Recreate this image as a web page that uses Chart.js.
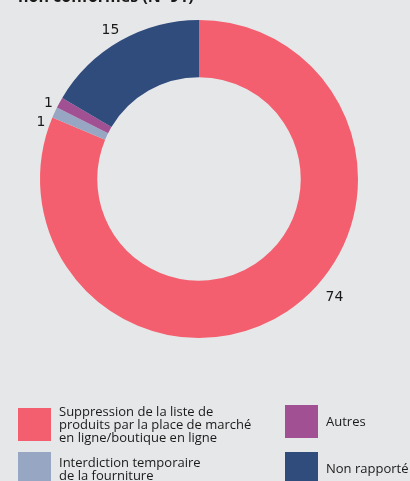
<!DOCTYPE html>
<html>
<head>
<meta charset="utf-8">
<script src="https://cdn.jsdelivr.net/npm/chart.js@4"></script>
<style>
  html, body { margin: 0; padding: 0; }
  body { width: 410px; height: 481px; background: #e6e7e9; position: relative; overflow: hidden;
         font-family: "Open Sans", "Noto Sans", sans-serif; color: #1a1a1a; }
  #wrap { position: absolute; left: 0; top: 0; width: 410px; height: 481px; }
  .title { position: absolute; left: 18px; top: -12px; font-size: 16px; font-weight: bold; line-height: 16px; white-space: nowrap; }
  .legend-item { position: absolute; display: flex; align-items: center; }
  .legend-item .sw { width: 33px; height: 33px; flex: none; }
  .legend-item .tx { margin-left: 8px; font-size: 13px; line-height: 12.8px; white-space: nowrap; }
</style>
</head>
<body>
<div id="wrap"><canvas id="chart" width="410" height="481"></canvas></div>
<div class="title">non conformes (N=91)</div>
<div id="legend"></div>
<script>
// Mesures prises — donut (N=91)
const categories = [
  "Suppression de la liste de\nproduits par la place de marché\nen ligne/boutique en ligne",
  "Interdiction temporaire\nde la fourniture",
  "Autres",
  "Non rapporté",
];
const values = [74, 1, 1, 15];
const colors = ["#f35f6e", "#97a7c3", "#a05093", "#304c7d"];

// label placement tweaks (degrees off arc middle, distance from centre)
const labelShift = [-15.2, -4.9, -1.9, -1.1];
const labelDist = [180, 168, 168.6, 173];

// legend slots: [left, top] of swatch
const legendSlots = [[18, 405], [18, 452], [285, 405], [285, 452]];

const valueLabels = {
  id: "valueLabels",
  afterDatasetsDraw(chart) {
    const { ctx } = chart;
    const meta = chart.getDatasetMeta(0);
    ctx.save();
    ctx.font = "14px 'DejaVu Sans', sans-serif";
    ctx.fillStyle = "#1a1a1a";
    ctx.textAlign = "center";
    ctx.textBaseline = "middle";
    meta.data.forEach((arc, i) => {
      const mid = (arc.startAngle + arc.endAngle) / 2 + labelShift[i] * Math.PI / 180;
      const x = arc.x + Math.cos(mid) * labelDist[i];
      const y = arc.y + Math.sin(mid) * labelDist[i];
      ctx.fillText(String(values[i]), x, y);
    });
    ctx.restore();
  },
};

new Chart(document.getElementById("chart"), {
  type: "doughnut",
  data: {
    labels: categories,
    datasets: [{
      data: values,
      backgroundColor: colors,
      borderWidth: 0,
    }],
  },
  options: {
    responsive: false,
    animation: false,
    cutout: "64%",
    layout: { padding: { left: 40, top: 20, right: 52, bottom: 143 } },
    plugins: {
      legend: { display: false },
      tooltip: { enabled: false },
    },
  },
  plugins: [valueLabels],
});

// html legend
const legendEl = document.getElementById("legend");
categories.forEach((c, i) => {
  const item = document.createElement("div");
  item.className = "legend-item";
  item.style.left = legendSlots[i][0] + "px";
  item.style.top = legendSlots[i][1] + "px";
  const sw = document.createElement("div");
  sw.className = "sw";
  sw.style.background = colors[i];
  const tx = document.createElement("div");
  tx.className = "tx";
  tx.innerHTML = c.split("\n").join("<br>");
  item.appendChild(sw);
  item.appendChild(tx);
  legendEl.appendChild(item);
});
</script>
</body>
</html>
